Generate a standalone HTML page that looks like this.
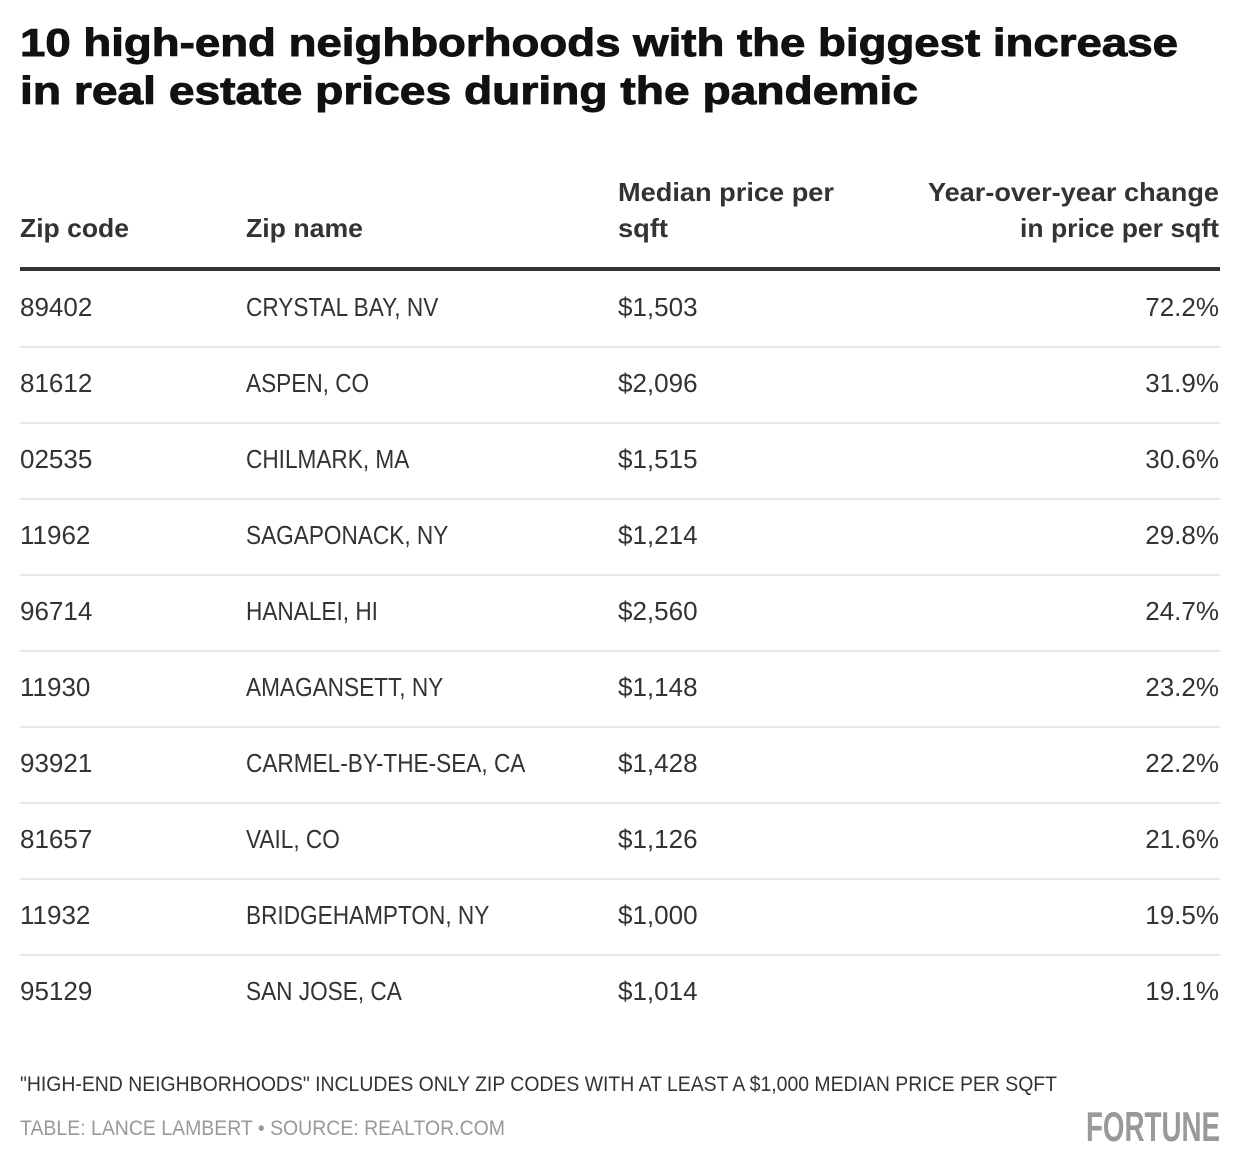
<!DOCTYPE html>
<html><head><meta charset="utf-8"><style>
html,body{margin:0;padding:0;background:#fff;}
svg{display:block;font-family:"Liberation Sans",sans-serif;}
</style></head><body>
<svg id="tbl" width="1240" height="1168" viewBox="0 0 1240 1168">
<rect width="1240" height="1168" fill="#fff"/>
<g font-weight="bold" font-size="39" fill="#111" stroke="#111" stroke-width="0.9">
<text x="20" y="56" textLength="1158" lengthAdjust="spacingAndGlyphs">10 high-end neighborhoods with the biggest increase</text>
<text x="20" y="104" textLength="898" lengthAdjust="spacingAndGlyphs">in real estate prices during the pandemic</text>
</g>
<g font-weight="bold" font-size="26" fill="#333">
<text x="20" y="237" textLength="109" lengthAdjust="spacingAndGlyphs">Zip code</text>
<text x="246" y="237" textLength="117" lengthAdjust="spacingAndGlyphs">Zip name</text>
<text x="618" y="201" textLength="216" lengthAdjust="spacingAndGlyphs">Median price per</text>
<text x="618" y="237" textLength="50" lengthAdjust="spacingAndGlyphs">sqft</text>
<text x="1219" y="201" text-anchor="end" textLength="291" lengthAdjust="spacingAndGlyphs">Year-over-year change</text>
<text x="1219" y="237" text-anchor="end" textLength="199" lengthAdjust="spacingAndGlyphs">in price per sqft</text>
</g>
<rect x="20" y="267" width="1200" height="4" fill="#333"/>
<g id="rows"></g>
<text x="20" y="1091" font-size="21" fill="#333" textLength="1037" lengthAdjust="spacingAndGlyphs">"HIGH-END NEIGHBORHOODS" INCLUDES ONLY ZIP CODES WITH AT LEAST A $1,000 MEDIAN PRICE PER SQFT</text>
<text x="20" y="1135" font-size="21" fill="#999" textLength="485" lengthAdjust="spacingAndGlyphs">TABLE: LANCE LAMBERT • SOURCE: REALTOR.COM</text>
<text x="1220" y="1141" text-anchor="end" font-size="42" font-weight="bold" fill="#999" textLength="134" lengthAdjust="spacingAndGlyphs">FORTUNE</text>
</svg>
<script>
const zips = ["89402","81612","02535","11962","96714","11930","93921","81657","11932","95129"];
const names = ["CRYSTAL BAY, NV","ASPEN, CO","CHILMARK, MA","SAGAPONACK, NY","HANALEI, HI","AMAGANSETT, NY","CARMEL-BY-THE-SEA, CA","VAIL, CO","BRIDGEHAMPTON, NY","SAN JOSE, CA"];
const prices = [1503,2096,1515,1214,2560,1148,1428,1126,1000,1014];
const changes = [72.2,31.9,30.6,29.8,24.7,23.2,22.2,21.6,19.5,19.1];

const NS = "http://www.w3.org/2000/svg";
const g = document.getElementById('rows');
function txt(parent, x, y, s, anchor, scale){
  const t = document.createElementNS(NS,'text');
  t.setAttribute('y', y);
  t.setAttribute('font-size', 26);
  t.setAttribute('fill', '#333');
  if (anchor) t.setAttribute('text-anchor', anchor);
  if (scale) { t.setAttribute('x', x/scale); t.setAttribute('transform','scale('+scale+',1)'); }
  else t.setAttribute('x', x);
  t.textContent = s;
  parent.appendChild(t);
  return t;
}
zips.forEach((z,i)=>{
  const y0 = 271 + i*76;
  const row = document.createElementNS(NS,'g');
  
  
  g.appendChild(row);
  const a = txt(row, 20, y0+45, z);
  
  
  const b = txt(row, 246, y0+45, names[i], null, 0.87);
  
  
  const c = txt(row, 618, y0+45, '$' + prices[i].toLocaleString('en-US'));
  
  
  const d = txt(row, 1219, y0+45, changes[i].toFixed(1) + '%', 'end');
  
  
  if (i < zips.length-1){
    const r = document.createElementNS(NS,'rect');
    r.setAttribute('x',20); r.setAttribute('y', y0+75); r.setAttribute('width',1200); r.setAttribute('height',2);
    r.setAttribute('fill','#e8e8e8');
    
    
    row.appendChild(r);
  }
});
</script>
</body></html>
